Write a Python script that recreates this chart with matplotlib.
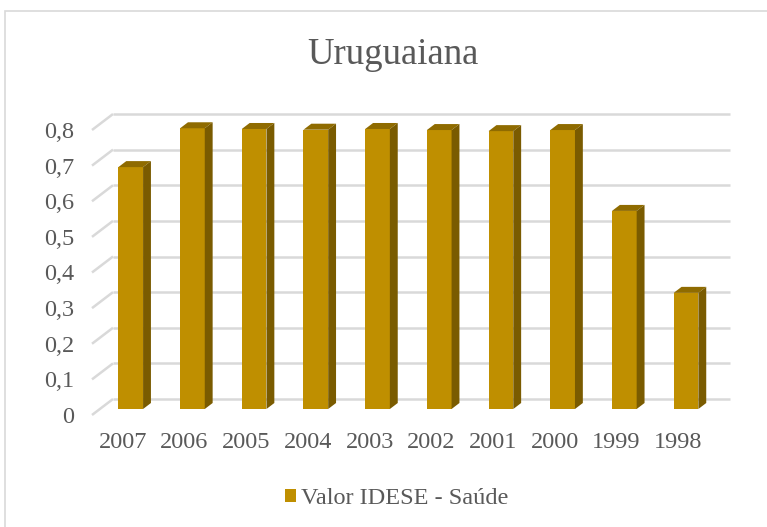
import numpy as np
import matplotlib.pyplot as plt
from matplotlib.patches import Rectangle, Polygon, Patch

# Dados: Valor IDESE - Saúde, Uruguaiana
anos = ["2007", "2006", "2005", "2004", "2003", "2002", "2001", "2000", "1999", "1998"]
valores = [0.679, 0.788, 0.786, 0.784, 0.786, 0.783, 0.780, 0.783, 0.556, 0.326]
y_ticks = [0.0, 0.1, 0.2, 0.3, 0.4, 0.5, 0.6, 0.7, 0.8]
y_labels = ["0", "0,1", "0,2", "0,3", "0,4", "0,5", "0,6", "0,7", "0,8"]

cor_frente = "#BF8F00"
cor_topo = "#8F6B00"
cor_lado = "#7A5B00"
cor_grade = "#D9D9D9"
cor_texto = "#595959"

plt.rcParams["font.family"] = ["Liberation Serif", "DejaVu Serif"]

W, H = 767, 527
fig = plt.figure(figsize=(W / 100, H / 100), dpi=100)
ax = fig.add_axes([92 / W, (H - 415) / H, 617 / W, 285 / H])
ax.set_xlim(-0.5, 9.5)
ax.set_ylim(0, 0.8)

# profundidade do "3D" em unidades de dados
DX = 21 / 61.7
DY = 16 / 356.25
f0, f1 = 0.375, 0.75
w = 0.4

# grade na parede do fundo + diagonais na parede lateral
for v in y_ticks:
    ax.plot([-0.5 + DX, 9.5 + DX], [v + DY, v + DY], color=cor_grade, lw=1.8,
            clip_on=False, zorder=1, solid_capstyle="butt")
    ax.plot([-0.5, -0.5 + DX], [v, v + DY], color=cor_grade, lw=1.8,
            clip_on=False, zorder=1, solid_capstyle="butt")

# barras
bd = f1 - f0
for i, v in enumerate(valores):
    xl = i - w / 2 + f0 * DX
    xr = xl + w
    y0 = f0 * DY
    yt = v + y0
    ax.add_patch(Rectangle((xl, y0), w, v, facecolor=cor_frente, edgecolor="none",
                           clip_on=False, zorder=3))
    ax.add_patch(Polygon([(xl, yt), (xr, yt), (xr + bd * DX, yt + bd * DY),
                          (xl + bd * DX, yt + bd * DY)], closed=True,
                         facecolor=cor_topo, edgecolor="none", clip_on=False, zorder=3))
    ax.add_patch(Polygon([(xr, y0), (xr, yt), (xr + bd * DX, yt + bd * DY),
                          (xr + bd * DX, y0 + bd * DY)], closed=True,
                         facecolor=cor_lado, edgecolor="none", clip_on=False, zorder=3))

for s in ax.spines.values():
    s.set_visible(False)
ax.set_xticks(range(len(anos)))
ax.set_xticklabels(anos)
ax.set_yticks(y_ticks)
ax.set_yticklabels(y_labels)
ax.tick_params(axis="both", length=0, labelsize=17.5, labelcolor=cor_texto)
ax.tick_params(axis="x", pad=12)
ax.tick_params(axis="y", pad=13)
ax.patch.set_visible(False)

fig.text(393 / W, 1 - 55 / H, "Uruguaiana", ha="center", va="center",
         fontsize=26.5, color=cor_texto)

fig.legend(handles=[Patch(facecolor=cor_frente, edgecolor="none",
                          label="Valor IDESE - Saúde")],
           loc="center", bbox_to_anchor=(397 / W, 1 - 499 / H), frameon=False,
           fontsize=17.5, labelcolor=cor_texto, handlelength=0.45, handleheight=0.45,
           handletextpad=0.2)

# borda externa do gráfico
fig.add_artist(Rectangle((5 / W, -0.1), 1.0, 1 - 11 / H + 0.1, transform=fig.transFigure,
                         fill=False, edgecolor=cor_grade, lw=1.2))

fig.savefig("out.png", dpi=100)
